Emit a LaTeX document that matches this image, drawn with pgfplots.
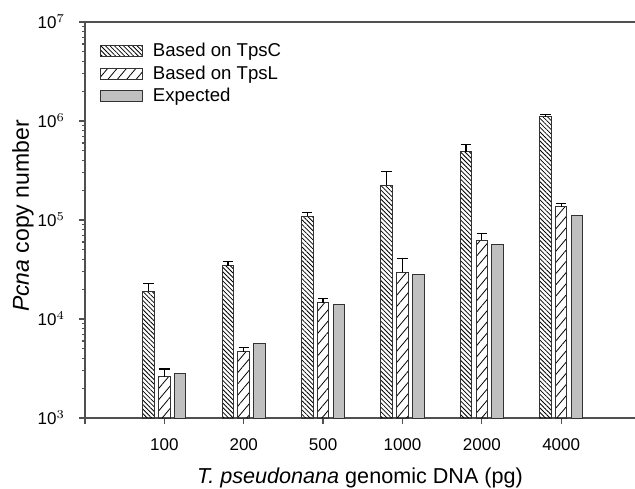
\documentclass[border=0pt]{standalone}
\usepackage{fontspec}
\setmainfont{Liberation Sans}
\usepackage{pgfplots}
\usepackage{pgfplotstable}
\pgfplotsset{compat=1.18}
\usetikzlibrary{patterns.meta}

\definecolor{barfill}{RGB}{192,192,192}
\definecolor{edge}{RGB}{50,50,50}
\definecolor{axcol}{RGB}{80,80,80}

% x = sample position, c/l = copy number from TpsC / TpsL, e = expected
\pgfplotstableread{
x c cerr l lerr e
1 19000 3700 2600 530 2800
2 34500 3400 4660 490 5600
3 109000 11000 14600 1400 14000
4 225000 84000 29500 11000 28000
5 490000 86000 62500 11000 56000
6 1100000 70000 136000 10000 112000
}\datatable

\begin{document}
\begin{tikzpicture}
\begin{axis}[name=ax,
  width=275pt,height=198pt,scale only axis,
  ymode=log,log basis y=10,log origin=infty,
  ymin=1000,ymax=1e7,
  xmin=0,xmax=6.93,
  axis x line*=bottom,axis y line*=left,
  axis line style={axcol,line width=0.7pt},
  tick style={axcol,line width=0.6pt},
  tick align=outside,
  major tick length=3pt,minor tick length=1.6pt,
  xtick={0,...,6},xticklabels={,100,200,500,1000,2000,4000},
  log number format basis/.code 2 args={#1\textsuperscript{\pgfmathprintnumber{#2}}},
  tick label style={font=\fontsize{8.5}{10}\selectfont},
  xticklabel style={yshift=-4pt},
  yticklabel style={xshift=-3.5pt},
  xlabel={\textit{T. pseudonana} genomic DNA (pg)},
  ylabel={\textit{Pcna} copy number},
  xlabel style={font=\fontsize{10.8}{13}\selectfont,
    at={(axis description cs:0.5,0)},anchor=base,yshift=-32.5pt},
  ylabel style={font=\fontsize{11.5}{13}\selectfont,
    at={(axis description cs:-0.1127,0.51)},anchor=center},
  ybar,bar width=5.8pt,
  legend image code/.code={\draw[#1,bar shift=0pt] (0pt,-2.75pt) rectangle (21pt,2.75pt);},
  legend style={at={(rel axis cs:0.0155,0.965)},anchor=north west,draw=none,fill=none,
    row sep=0pt,column sep=3.5pt,
    nodes={inner sep=1.5pt,font=\fontsize{9.3}{11}\selectfont}},
  legend cell align=left,
  error bars/error bar style={black,line width=0.6pt},
  error bars/error mark options={black,line width=0.6pt,mark size=2.6pt,rotate=90},
]
\addplot[bar shift=-7.9pt,draw=edge,line width=0.5pt,
  pattern={Lines[angle=-45,distance=1.6pt,line width=0.4pt]},pattern color=black,
  error bars/.cd,y dir=plus,y explicit]
  table[x=x,y=c,y error=cerr]{\datatable};
\addlegendentry{Based on TpsC}
\addplot[bar shift=0pt,draw=edge,line width=0.5pt,
  pattern={Lines[angle=50,distance=3.6pt,line width=0.4pt]},pattern color=black,
  error bars/.cd,y dir=plus,y explicit]
  table[x=x,y=l,y error=lerr]{\datatable};
\addlegendentry{Based on TpsL}
\addplot[bar shift=7.9pt,draw=edge,line width=0.5pt,fill=barfill]
  table[x=x,y=e]{\datatable};
\addlegendentry{Expected}
\draw[axcol,line width=0.7pt] (rel axis cs:0,1) -- (rel axis cs:1,1);
\end{axis}
\pgfresetboundingbox
\path[use as bounding box] ([xshift=-42.5pt,yshift=-35pt]ax.south west) rectangle ([yshift=11pt]ax.north east);
\end{tikzpicture}
\end{document}
